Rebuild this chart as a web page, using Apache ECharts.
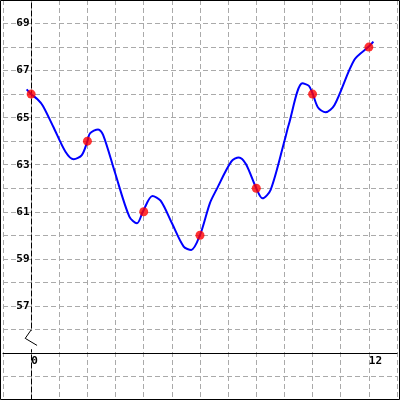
<!DOCTYPE html>
<html>
<head>
<meta charset="utf-8">
<script src="https://cdn.jsdelivr.net/npm/echarts@6/dist/echarts.min.js"></script>
<style>html,body{margin:0;padding:0;background:#fff}#c{width:400px;height:400px}</style>
</head>
<body>
<div id="c"></div>
<script>
// Data
const curveX = [-0.16, 0.0, 0.225, 0.42, 0.8, 1.22, 1.51, 1.8, 2.0, 2.09, 2.38, 2.56, 2.97, 3.49, 3.76, 3.98, 4.31, 4.6, 5.0, 5.42, 5.69, 6.0, 6.35, 6.58, 7.11, 7.38, 7.63, 8.0, 8.22, 8.51, 9.01, 9.15, 9.64, 9.87, 10.0, 10.2, 10.46, 10.78, 11.48, 12.0, 12.16];
const curveY = [66.2, 66.0, 65.78, 65.5, 64.58, 63.55, 63.23, 63.41, 64.0, 64.33, 64.5, 64.26, 62.7, 60.79, 60.51, 61.03, 61.67, 61.47, 60.52, 59.52, 59.38, 60.01, 61.36, 61.93, 63.13, 63.31, 63.03, 62.0, 61.57, 61.93, 64.05, 64.69, 66.46, 66.35, 66.03, 65.42, 65.23, 65.54, 67.45, 68.02, 68.23];
const pointX = [0, 2, 4, 6, 8, 10, 12];
const pointY = [66, 64, 61, 60, 62, 66, 68];
const xTickLabels = [0, 12];
const yTickLabels = [57, 59, 61, 63, 65, 67, 69];

const xMin = -1, xMax = 13, yMin = 53, yMax = 70;
const xAxisAt = 55;   // horizontal axis drawn at y = 55
const yAxisAt = 0;    // vertical axis drawn at x = 0
const W = 400, H = 400;

const chart = echarts.init(document.getElementById('c'), null, {renderer: 'canvas'});
const labelFont = {fontFamily: 'DejaVu Sans Mono', fontWeight: 'bold', fontSize: 11, color: '#000'};
const grid = {color: '#aaaaaa', type: [5, 3], width: 1};

chart.setOption({
  animation: false,
  backgroundColor: '#fff',
  grid: {left: 0, right: 0, top: 0, bottom: 0, containLabel: false},
  xAxis: {
    type: 'value', min: xMin, max: xMax, interval: 1,
    position: 'bottom',
    offset: -(xAxisAt - yMin) / (yMax - yMin) * H,
    axisLine: {show: true, onZero: false, lineStyle: {color: '#000', width: 1}},
    axisTick: {show: false},
    splitLine: {show: true, lineStyle: grid},
    axisLabel: Object.assign({
      margin: 3, align: 'left', padding: [0, 0, 0, 0],
      showMinLabel: true, showMaxLabel: true,
      formatter: v => xTickLabels.includes(v) ? String(v) : ''
    }, labelFont)
  },
  yAxis: {
    type: 'value', min: yMin, max: yMax, interval: 1,
    position: 'left',
    offset: -(yAxisAt - xMin) / (xMax - xMin) * W,
    axisLine: {show: true, onZero: false, lineStyle: {color: '#000', width: 1, type: [5, 3]}},
    axisTick: {show: false},
    splitLine: {show: true, lineStyle: grid},
    axisLabel: Object.assign({
      margin: 2,
      formatter: v => yTickLabels.includes(v) ? String(v) : ''
    }, labelFont)
  },
  series: [
    {
      type: 'line', data: curveX.map((x, i) => [x, curveY[i]]),
      smooth: 0.3, showSymbol: false, symbol: 'none',
      lineStyle: {color: '#0000ff', width: 2}, z: 3
    },
    {
      type: 'scatter', data: pointX.map((x, i) => [x, pointY[i]]),
      symbol: 'circle', symbolSize: 9,
      itemStyle: {color: '#ff0000'}, z: 4
    }
  ]
});

// axis break marker on the vertical axis and outer frame
const p = (x, y) => chart.convertToPixel({gridIndex: 0}, [x, y]);
const a = p(0, 55.98), b = p(-0.21, 55.62), c = p(0.21, 55.32), d = p(0, 55.2);
chart.setOption({
  graphic: [
    {type: 'rect', shape: {x: a[0] - 2, y: a[1] + 1, width: 4, height: d[1] - a[1]}, style: {fill: '#fff'}, z: 100},
    {type: 'polyline', shape: {points: [a, b, c]}, style: {stroke: '#000', lineWidth: 1, fill: null}, z: 101},
    {type: 'rect', shape: {x: 0.5, y: 0.5, width: W - 1, height: H - 1}, style: {stroke: '#000', lineWidth: 1, fill: null}, z: 102}
  ]
});
</script>
</body>
</html>
